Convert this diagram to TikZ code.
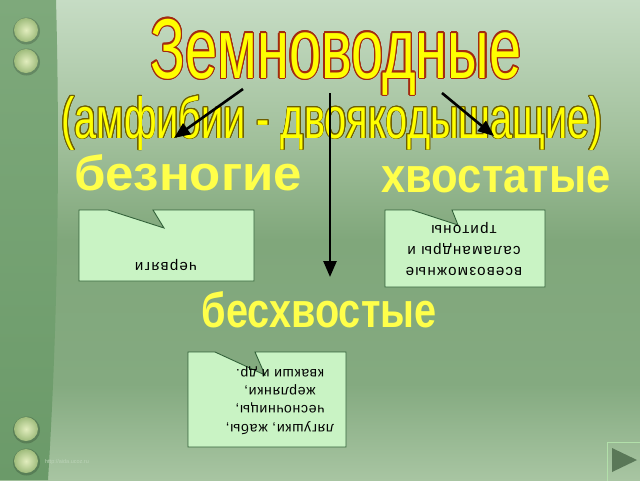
\documentclass[tikz,border=0pt]{standalone}
\usepackage{fontspec}
\setmainfont{Liberation Sans}
\newfontfamily\titlefont[FakeStretch=0.68]{Liberation Sans}
\newfontfamily\subtitlefont[FakeStretch=0.683]{Liberation Sans}
\newfontfamily\labelfont{Liberation Sans Bold}
\newfontfamily\boxfont[LetterSpace=8.5]{Liberation Sans}
\newfontfamily\boxfontb[LetterSpace=5]{Liberation Sans}
\usepackage{contour}
\usetikzlibrary{arrows.meta}
\definecolor{bgA}{HTML}{C6DCC4}
\definecolor{bgA2}{HTML}{A0BF9A}
\definecolor{bgB}{HTML}{80A77B}
\definecolor{bgC}{HTML}{84AA80}
\definecolor{bgD}{HTML}{A8C5A2}
\definecolor{stripTop}{HTML}{7EA97B}
\definecolor{stripBot}{HTML}{6B9A69}
\definecolor{dotIn}{HTML}{E2EDBE}
\definecolor{dotOut}{HTML}{9FBC7C}
\definecolor{titlefill}{HTML}{FFFF00}
\definecolor{titleout}{HTML}{A32A10}
\definecolor{subout}{HTML}{6E5E00}
\definecolor{labelfill}{HTML}{FFFF4A}
\definecolor{boxfill}{HTML}{C9F3C4}
\definecolor{boxline}{HTML}{33623A}
\definecolor{btnline}{HTML}{B2E0AA}
\definecolor{btnfill}{HTML}{5A7858}
\definecolor{wm}{HTML}{BCD3B8}
\pgfdeclareverticalshading{bgshade}{100bp}{color(0bp)=(bgD); color(25bp)=(bgD); color(35bp)=(bgC); color(50bp)=(bgB); color(60bp)=(bgA2); color(75bp)=(bgA); color(100bp)=(bgA)}
\tikzset{
  arrowline/.style={line width=2.6pt, draw=black, -{Triangle[length=16pt,width=13pt]}},
  calloutbox/.style={draw=boxline, fill=boxfill, line width=0.9pt, line join=miter},
  boxtext/.style={rotate=180, align=center, text=black, inner sep=0pt},
  labeltext/.style={anchor=base, text=labelfill, inner sep=0pt, font=\labelfont\fontsize{49}{49}\selectfont},
}
\begin{document}
\begin{tikzpicture}[x=1pt,y=-1pt]
\useasboundingbox (0,0) rectangle (640,480);
% background
\fill[shading=bgshade] (0,0) rectangle (640,480);
\shade[top color=stripTop, bottom color=stripBot] (0,0) -- (56,0) .. controls (60,150) and (58,320) .. (48,480) -- (0,480) -- cycle;
% dots
\foreach \yy in {30,61,429,461}{
  \fill[black, opacity=0.18] (26.5,\yy+1) circle (13.5);
  \shade[inner color=dotIn, outer color=dotOut] (26,\yy) circle (12);
}
% title and subtitle
\contourlength{1.3pt}
\node[anchor=base, inner sep=0pt, text=titlefill, font=\titlefont\fontsize{85}{85}\selectfont] (title) at (336,78) {\contour{titleout}{Земноводные}};
\contourlength{0.9pt}
\node[anchor=base, inner sep=0pt, text=titlefill, font=\subtitlefont\fontsize{58}{58}\selectfont] (subtitle) at (332,138) {\contour{subout}{(амфибии - двоякодышащие)}};
% arrows
\coordinate (a1s) at (243,89);
\coordinate (a1e) at (174,138);
\coordinate (a2s) at (330,93);
\coordinate (a2e) at (330,277);
\coordinate (a3s) at (442,93);
\coordinate (a3e) at (494,136);
\draw[arrowline] (a1s) -- (a1e);
\draw[arrowline] (a2s) -- (a2e);
\draw[arrowline] (a3s) -- (a3e);
% labels
\node[labeltext] (legless) at (188,190) {\scalebox{1.04}[1]{безногие}};
\node[labeltext] (tailed) at (496,192) {\scalebox{0.89}[1]{хвостатые}};
\node[labeltext] (tailless) at (319,327) {\scalebox{0.81}[1]{бесхвостые}};
% callout 1
\draw[calloutbox] (79,210) -- (108,210) -- (164,228) -- (153,210) -- (254,210) -- (254,281) -- (79,281) -- cycle;
\node[boxtext, font=\boxfont\fontsize{15}{21}\selectfont] (t1) at (166,265) {червяги};
% callout 2
\draw[calloutbox] (385,210) -- (412,210) -- (458,225) -- (452,210) -- (545,210) -- (545,287) -- (385,287) -- cycle;
\node[boxtext, font=\boxfont\fontsize{15}{21}\selectfont] (t2) at (464,249) {всевозможные\\саламандры и\\тритоны};
% callout 3
\draw[calloutbox] (188,352) -- (215,352) -- (265,375) -- (255,352) -- (346,352) -- (346,447) -- (188,447) -- cycle;
\node[boxtext, font=\boxfontb\fontsize{14}{18.3}\selectfont] (t3) at (280,400.5) {лягушки, жабы,\\чесночницы,\\жерлянки,\\квакши и др.};
% play button
\draw[btnline, line width=0.8pt] (607,442) rectangle (646,486);
\fill[btnfill] (612,448) -- (637,460) -- (612,472) -- cycle;
% watermark
\node[inner sep=0pt, text=wm, font=\fontsize{5.5}{6}\selectfont] (wmark) at (67,462) {http://aida.ucoz.ru};
\end{tikzpicture}
\end{document}
